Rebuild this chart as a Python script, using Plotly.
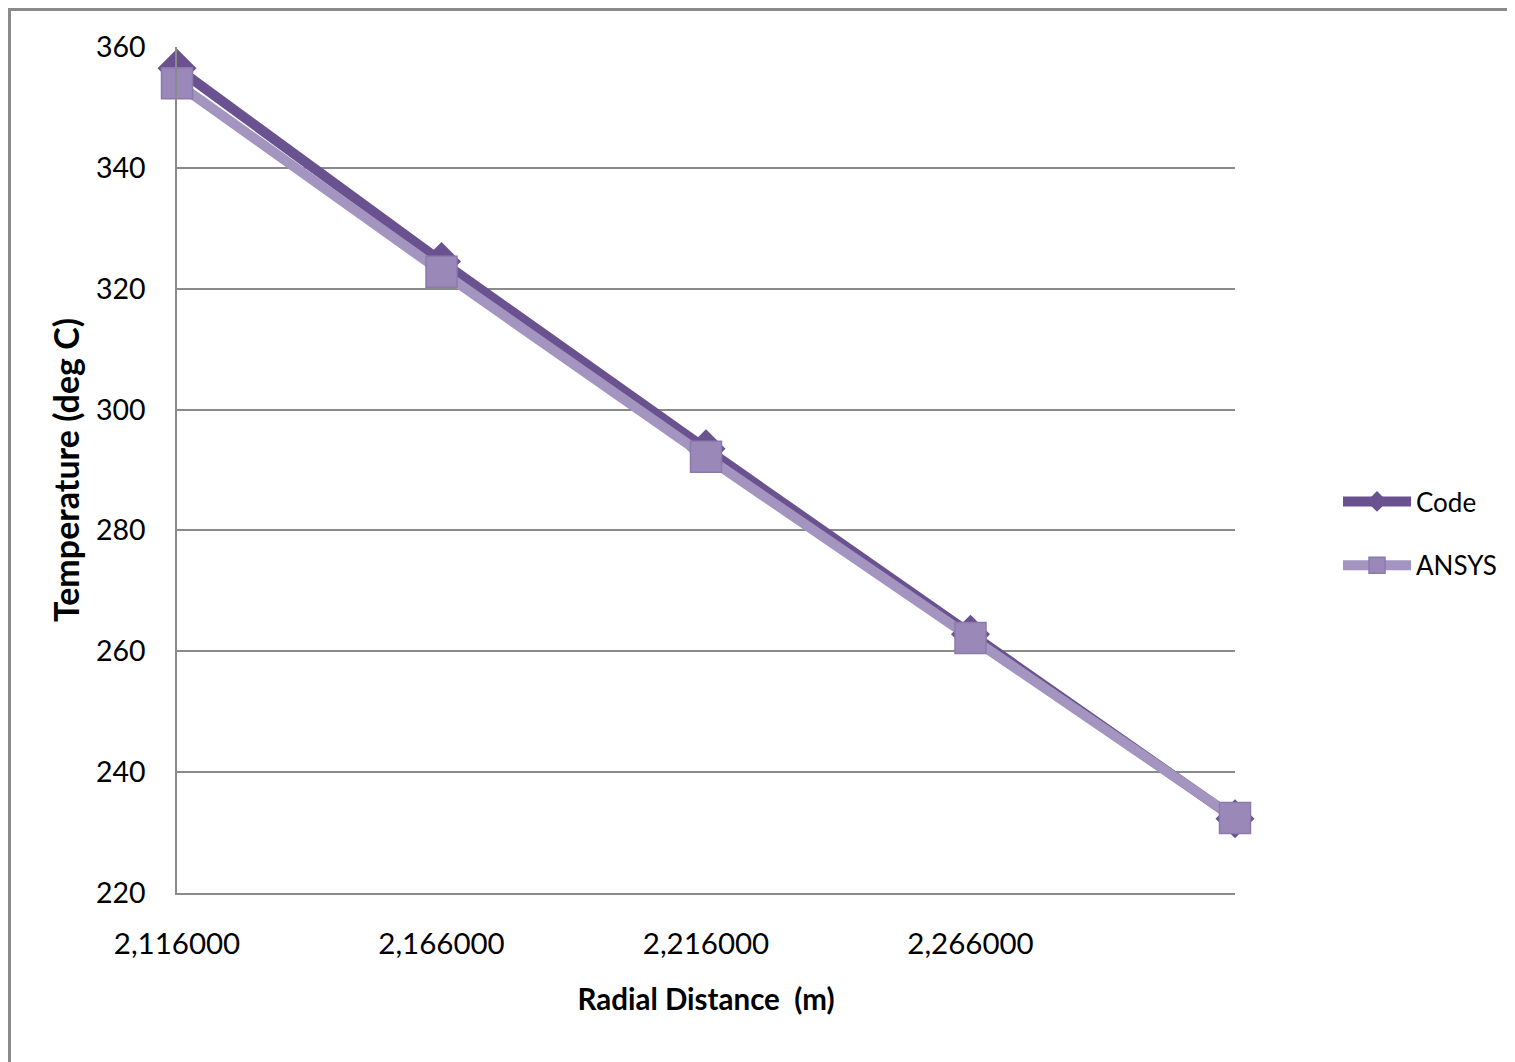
import plotly.graph_objects as go

# Data
radial_distance = ["2,116000", "2,166000", "2,216000", "2,266000", "2,316000"]
tick_labels = ["2,116000", "2,166000", "2,216000", "2,266000", ""]
code_temp = [356.5, 324.5, 293.5, 262.8, 232.3]
ansys_temp = [354.0, 322.8, 292.2, 262.2, 232.4]
y_ticks = [220, 240, 260, 280, 300, 320, 340, 360]

CODE_COLOR = "#6A5291"
ANSYS_COLOR = "#A394C0"
FONT = "Lato"

OFF = 8  # page body margin
W, H = 1515 - OFF, 1062 - OFF
L, R, T, B = 177 - OFF, 280, 47 - OFF, 169
pw, ph = W - L - R, H - T - B

fig = go.Figure()
fig.add_trace(go.Scatter(
    x=radial_distance, y=code_temp, name="Code", mode="lines+markers",
    legendgroup="code",
    line=dict(color=CODE_COLOR, width=10),
    marker=dict(symbol="diamond", size=30, color=CODE_COLOR),
    cliponaxis=False,
))
fig.add_trace(go.Scatter(
    x=radial_distance, y=ansys_temp, name="ANSYS", mode="lines+markers",
    legendgroup="ansys",
    line=dict(color=ANSYS_COLOR, width=10),
    marker=dict(symbol="square", size=31, color="#9A88B9",
                line=dict(color="#8C7AAC", width=1.5)),
    cliponaxis=False,
))


def px_x(page_px):
    return (page_px - OFF - L) / pw


def px_y(page_px):
    return (H - B - (page_px - OFF)) / ph


shapes = [
    dict(type="line", xref="paper", yref="paper",
         x0=px_x(8), x1=px_x(1520), y0=px_y(9.5), y1=px_y(9.5),
         line=dict(color="#8A8A8A", width=3)),
    dict(type="line", xref="paper", yref="paper",
         x0=px_x(9.5), x1=px_x(9.5), y0=px_y(8), y1=px_y(1070),
         line=dict(color="#8A8A8A", width=3)),
]

fig.update_layout(
    width=W, height=H,
    margin=dict(l=L, r=R, t=T, b=B, pad=0),
    paper_bgcolor="white", plot_bgcolor="white",
    font=dict(family=FONT, size=28, color="#000000"),
    shapes=shapes,
    showlegend=True,
    legend=dict(
        x=px_x(1338), y=px_y(478), xanchor="left", yanchor="top",
        font=dict(family=FONT, size=26, color="#000000"),
        itemwidth=68, traceorder="grouped", tracegroupgap=27,
        bgcolor="rgba(0,0,0,0)",
    ),
    xaxis=dict(
        type="category", range=[0, 4],
        tickmode="array", tickvals=radial_distance, ticktext=tick_labels,
        showgrid=False, showline=True, linecolor="#8A8A8A", linewidth=1.5,
        ticks="", ticklabelstandoff=24,
        tickfont=dict(family=FONT, size=29.5),
        title=dict(text="<b>Radial Distance  (m)</b>", standoff=30,
                   font=dict(family=FONT, size=29.5)),
        zeroline=False,
    ),
    yaxis=dict(
        range=[220, 360], tickvals=y_ticks,
        showgrid=True, gridcolor="#8A8A8A", gridwidth=1.5,
        showline=True, linecolor="#8A8A8A", linewidth=1.5,
        ticks="", ticklabelstandoff=24,
        tickfont=dict(family=FONT, size=28.5),
        title=dict(text="<b>Temperature (deg C)</b>", standoff=6,
                   font=dict(family=FONT, size=34)),
        zeroline=False,
    ),
)

fig.write_html("out.html")
